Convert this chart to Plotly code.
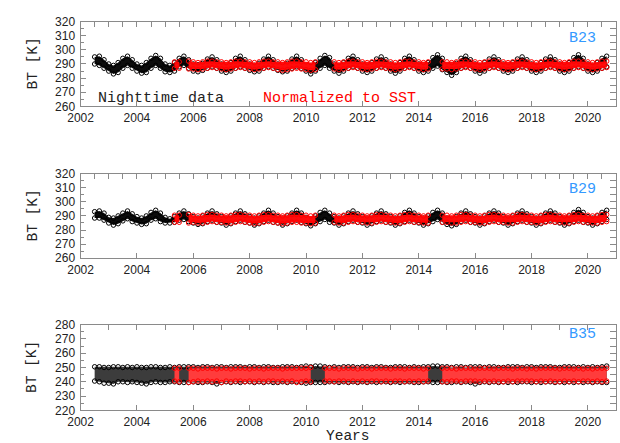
import plotly.graph_objects as go

W, H = 620, 443

# ---- time grid: 2-monthly samples from mid-2002 to mid-2020 ----
T_START = 2002.5
T_STEP = 1 / 6
N_T = 110
TIMES = [T_START + k * T_STEP for k in range(N_T)]
N = None

# ---- B23 (values per year, phases 0, 1/6, 2/6, 3/6, 4/6, 5/6) ----
B23_BLACK_HI = [295, 295.5, 293,
    290, 289, 291, 294, 295.5, 293,
    290, 289, 291, 294, 296, 294,
    290, 289, 291, 294, 295.5, 293,
    290, 289.5, 290.5, 293.5, 295, 293,
    290, 289, 291, 294, 295.5, 293,
    290, 289, 290.5, 293.5, 295.5, 293,
    290, 289, 290.5, 293.5, 295.5, 293,
    289.5, 288.5, 291, 294, 296, 294.5,
    290, 289, 291, 294, 295.5, 293,
    290, 289, 291, 293.5, 295, 293,
    290, 289, 291, 294, 295.5, 293,
    290, 289, 291, 294.5, 296.5, 294,
    289, 288, 290.5, 294, 295.5, 293,
    290, 289, 291, 293.5, 295, 293,
    290, 289, 291, 293.5, 295, 293,
    290, 289, 291, 293.5, 295, 293,
    290, 289, 291, 294.5, 296.5, 294,
    290, 289, 291, 294, 295.5]
B23_BLACK_LO = [290, 289, 287,
    285, 283, 284, 287, 289, 287,
    285, 283.5, 284, 287, 289, 287,
    284.5, 284, 285, 288, 289, 287,
    285, 284.5, 285.5, 287, 288, 287,
    285, 284, 285, 287, 288, 287,
    285.5, 284.5, 285, 287, 288, 287,
    285.5, 284.5, 285, 287, 288, 287,
    285, 283, 285, 287, 289, 287,
    285, 283.5, 285, 287, 288, 287,
    285, 284, 285, 287, 288, 287,
    285, 283.5, 285, 287, 288, 287,
    285, 284, 285, 287, 288.5, 286,
    284, 282, 284, 287, 288, 287,
    285, 283.5, 285, 287, 288, 287,
    285, 284, 285, 287, 288, 287,
    285, 284, 285, 287, 288, 287,
    285, 284, 285, 287, 288, 287,
    285, 284, 285, 287, 288]
B23_RED_HI = [N, N, N,
    N, N, N, N, N, N,
    N, N, N, N, N, N,
    N, N, 291.5, 291.5, N, 292,
    291.5, 291, 291.5, 292, 292, 291.5,
    291.5, 291, 291.5, 292, 292, 291.5,
    291.5, 291, 291.5, 292, 292, 291.5,
    291.5, 291, 291.5, 292, 292, 291.5,
    291.5, 291, 291.5, N, N, N,
    291.5, 291, 291.5, 292, 292, 291.5,
    291.5, 291, 291.5, 292, 292, 291.5,
    291.5, 291, 291.5, 292, 292, 291.5,
    291.5, 291, 291.5, N, N, 291.5,
    291.5, 291, 291.5, 292, 292, 291.5,
    291.5, 291, 291.5, 292, 292, 291.5,
    291.5, 291, 291.5, 292, 292, 291.5,
    291.5, 291, 291.5, 292, 292, 291.5,
    291.5, 291, 291.5, 292, 292, 291.5,
    291.5, 291, 291.5, 292, 292]
B23_RED_LO = [N, N, N,
    N, N, N, N, N, N,
    N, N, N, N, N, N,
    N, N, 287, 287, N, 286.5,
    286.5, 286, 286.5, 287, 287.5, 287,
    286.5, 286, 286.5, 287, 287.5, 287,
    286.5, 286, 286.5, 287, 287.5, 287,
    286, 285.5, 286, 286.5, 287, 286.5,
    286, 285.5, 286, N, N, N,
    286.5, 286, 286.5, 287, 287.5, 287,
    286.5, 286, 286.5, 287, 287.5, 287,
    286.5, 286, 286.5, 287, 287.5, 287,
    286.5, 286, 286.5, N, N, 286.5,
    286.5, 286, 286.5, 287, 287.5, 287,
    286.5, 286, 286.5, 287, 287.5, 287,
    286.5, 286, 286.5, 287, 287.5, 287,
    286.5, 286, 286.5, 287, 287.5, 287,
    286.5, 286, 286.5, 287, 287.5, 287,
    286.5, 286, 286.5, 287, 287.5]

# ---- B29 ----
B29_BLACK_HI = [293, 293.5, 292,
    289, 288.5, 290, 292, 293.5, 291.5,
    289.5, 288.5, 290, 292.5, 294, 292,
    289, 288, 289.5, 292, 293.5, 291.5,
    289.5, 288.5, 290, 292, 293.5, 291.5,
    289.5, 288.5, 290, 292, 293.5, 291.5,
    289.5, 288.5, 290, 292, 294, 292,
    289.5, 288.5, 290, 292, 294, 292,
    289, 288, 290, 292.5, 294, 292,
    289.5, 288.5, 290, 292, 293.5, 291.5,
    289.5, 288.5, 290, 292, 293.5, 291.5,
    289.5, 288.5, 290, 292.5, 294, 292,
    289.5, 288.5, 290, 292.5, 294, 292,
    288.5, 287.5, 289.5, 292, 293.5, 291.5,
    289.5, 288.5, 290, 292, 293.5, 292,
    289.5, 288.5, 290, 292, 293.5, 291.5,
    289.5, 288.5, 290, 292, 293.5, 292,
    289.5, 288.5, 290, 292.5, 294.5, 292.5,
    289.5, 288.5, 290, 292.5, 294]
B29_BLACK_LO = [288.5, 288.5, 287,
    285, 283.5, 284.5, 286.5, 288, 286,
    285, 284, 284.5, 287, 288, 286,
    285, 285, 285.5, 287, 287.5, 286,
    285, 284, 284.5, 286, 287, 285.5,
    285, 283.5, 284.5, 286, 287, 285.5,
    285, 283.5, 284.5, 286, 287, 285.5,
    285, 283.5, 284.5, 286, 287, 285.5,
    284.5, 283, 284.5, 286, 287.5, 285.5,
    285, 283.5, 284.5, 286, 287, 285.5,
    285, 283.5, 284.5, 286, 287, 285.5,
    285, 283.5, 284.5, 286, 287, 285.5,
    285, 283.5, 284.5, 286, 287.5, 285.5,
    284, 283, 284, 286, 287, 285.5,
    285, 283.5, 284.5, 286, 287, 285.5,
    285, 283.5, 284.5, 286, 287, 285.5,
    285, 283.5, 284.5, 286, 287, 285.5,
    285, 283.5, 284.5, 286, 287, 285.5,
    285, 283.5, 284.5, 286, 287.5]
B29_RED_HI = [N, N, N,
    N, N, N, N, N, N,
    N, N, N, N, N, N,
    N, N, 290.5, 290.5, N, 291,
    290.5, 290, 290.5, 291, 291, 290.5,
    290.5, 290, 290.5, 291, 291, 290.5,
    290.5, 290, 290.5, 291, 291, 290.5,
    290.5, 290, 290.5, 291, 291, 290.5,
    290.5, 290, 290.5, N, N, N,
    290.5, 290, 290.5, 291, 291, 290.5,
    290.5, 290, 290.5, 291, 291, 290.5,
    290.5, 290, 290.5, 291, 291, 290.5,
    290.5, 290, 290.5, N, N, 290.5,
    290.5, 290, 290.5, 291, 291, 290.5,
    290.5, 290, 290.5, 291, 291, 290.5,
    290.5, 290, 290.5, 291, 291, 290.5,
    290.5, 290, 290.5, 291, 291, 290.5,
    290.5, 290, 290.5, 291, 291, 290.5,
    290.5, 290, 290.5, 291, 291]
B29_RED_LO = [N, N, N,
    N, N, N, N, N, N,
    N, N, N, N, N, N,
    N, N, 285.5, 285.5, N, 285,
    285.5, 285, 285, 285.5, 286, 285.5,
    285.5, 285, 285, 285.5, 286, 285.5,
    285, 284.5, 285, 285.5, 286, 285.5,
    285, 284.5, 285, 285.5, 285.5, 285,
    285, 284.5, 285, N, N, N,
    285.5, 285, 285, 285.5, 286, 285.5,
    285.5, 285, 285, 285.5, 286, 285.5,
    285.5, 285, 285, 285.5, 286, 285.5,
    285.5, 285, 285, N, N, 285.5,
    285.5, 285, 285, 285.5, 286, 285.5,
    285.5, 285, 285, 285.5, 286, 285.5,
    285.5, 285, 285, 285.5, 286, 285.5,
    285.5, 285, 285, 285.5, 286, 285.5,
    285.5, 285, 285, 285.5, 286, 285.5,
    285.5, 285, 285, 285.5, 286]

# ---- B35 ----
B35_BLACK_HI = [250.5, 250.5, 250,
    250, 250.5, 250.5, 250, 250.5, 250,
    250.5, 250, 250, 250.5, 250.5, 250,
    250, 250.5, 250, 250.5, 250.5, 250.5,
    250.5, 250, 250.5, 250.5, 250, 250.5,
    250.5, 250, 250.5, 250.5, 250.5, 250,
    250.5, 250.5, 250, 250.5, 250.5, 250,
    250, 250.5, 250.5, 250.5, 250, 250.5,
    251, 250.5, 251, 251, 250.5, 250,
    250.5, 250, 250.5, 250.5, 250.5, 250,
    250.5, 250.5, 250, 250.5, 250.5, 250,
    250, 250.5, 250.5, 250.5, 250, 250.5,
    250, 250.5, 250.5, 251, 251, 250.5,
    250.5, 250, 250.5, 250.5, 250, 250.5,
    250.5, 250.5, 250, 250.5, 250.5, 250,
    250, 250.5, 250.5, 250.5, 250, 250.5,
    250.5, 250, 250.5, 250.5, 250.5, 250,
    250, 250.5, 250.5, 250.5, 250, 250.5,
    250, 250.5, 250, 250.5, 251]
B35_BLACK_LO = [240.5, 240, 239,
    239, 238.5, 240, 240, 239.5, 240,
    239.5, 239, 238.5, 239.5, 240, 239.5,
    239.5, 240, 240, 239.5, 239.5, 239.5,
    240, 239.5, 239.5, 240, 239.5, 238.5,
    239.5, 240, 239.5, 240, 239.5, 240,
    240, 239.5, 240, 239.5, 240, 239.5,
    239.5, 240, 239.5, 240, 240, 239.5,
    239, 239.5, 239.5, 239.5, 239.5, 240,
    240, 239.5, 240, 239.5, 240, 239.5,
    240, 239.5, 240, 239.5, 240, 240,
    239.5, 240, 239.5, 240, 240, 239.5,
    239.5, 240, 240, 239.5, 239.5, 240,
    239.5, 239.5, 240, 239.5, 240, 239.5,
    238.5, 239.5, 240, 239.5, 240, 239.5,
    240, 239.5, 240, 239.5, 240, 240,
    239.5, 240, 239.5, 240, 240, 239.5,
    240, 239.5, 240, 239.5, 240, 239.5,
    240, 239.5, 240, 239.5, 239.5]
B35_RED_HI = [N, N, N,
    N, N, N, N, N, N,
    N, N, N, N, N, N,
    N, N, 249.5, 249.5, N, 249.5,
    249.5, 249, 249.5, 249.5, 249.5, 249,
    249.5, 249.5, 249, 249.5, 249.5, 249.5,
    249, 249.5, 249.5, 249, 249.5, 249.5,
    249.5, 249, 249.5, 249.5, 249.5, 249.5,
    249.5, 250, N, N, 249.5, 249.5,
    249.5, 249, 249.5, 249.5, 249.5, 249,
    249.5, 249.5, 249, 249.5, 249.5, 249.5,
    249, 249.5, 249.5, 249, 249.5, 249.5,
    249.5, 249, 249.5, N, N, 249.5,
    249.5, 249.5, 249, 249.5, 249.5, 249.5,
    249, 249.5, 249.5, 249.5, 249, 249.5,
    249.5, 249.5, 249, 249.5, 249.5, 249,
    249.5, 249, 249.5, 249.5, 249.5, 249.5,
    249, 249.5, 249.5, 249, 249.5, 249,
    249.5, 249, 249.5, 249.5, 249.5]
B35_RED_LO = [N, N, N,
    N, N, N, N, N, N,
    N, N, N, N, N, N,
    N, N, 240.5, 240, N, 239.5,
    240, 240.5, 240, 240.5, 240, 240.5,
    239.5, 240.5, 240, 240.5, 240.5, 240,
    240.5, 240, 240.5, 240, 240.5, 240.5,
    240, 240.5, 240, 240.5, 239.5, 240,
    240.5, 240, N, N, 240.5, 240.5,
    240, 240.5, 240.5, 240, 240.5, 240,
    240.5, 240, 240.5, 240.5, 240, 240.5,
    240, 240.5, 240.5, 240, 240.5, 240,
    240.5, 240, 240.5, N, N, 240,
    240, 240.5, 240.5, 240, 240.5, 240.5,
    240.5, 240, 240.5, 240, 240.5, 240,
    240, 240.5, 240, 240.5, 240.5, 240.5,
    240.5, 240, 240.5, 240, 240.5, 240,
    240, 240.5, 240, 240.5, 240, 240.5,
    240.5, 240, 240.5, 240, 240.5]

BAND_NAMES = ["B23", "B29", "B35"]
Y_RANGES = [[260, 320], [260, 320], [220, 280]]
X_TICKS = [2002, 2004, 2006, 2008, 2010, 2012, 2014, 2016, 2018, 2020]
X_RANGE = [2002, 2021]

PANELS = [
    dict(bhi=B23_BLACK_HI, blo=B23_BLACK_LO, rhi=B23_RED_HI, rlo=B23_RED_LO,
         top=15, bot=102.7, topdtick=0.5, label_y=33,
         bfill="rgb(12,12,12)", rfill="rgb(255,12,12)"),
    dict(bhi=B29_BLACK_HI, blo=B29_BLACK_LO, rhi=B29_RED_HI, rlo=B29_RED_LO,
         top=172, bot=259.5, topdtick=0.5, label_y=188,
         bfill="rgb(12,12,12)", rfill="rgb(255,12,12)"),
    dict(bhi=B35_BLACK_HI, blo=B35_BLACK_LO, rhi=B35_RED_HI, rlo=B35_RED_LO,
         top=328, bot=416.5, topdtick=1, label_y=338,
         bfill="rgb(60,60,60)", rfill="rgb(255,60,60)"),
]

LEFT, RIGHT = 69, 616
FRAME = "#8a8a8a"
TICKFONT = dict(family="Liberation Sans", size=12, color="#222")
MONO = "Liberation Mono"


def segments(hi, lo):
    segs, cur = [], []
    for k in range(len(hi)):
        if hi[k] is None or lo[k] is None:
            if cur:
                segs.append(cur)
            cur = []
        else:
            cur.append(k)
    if cur:
        segs.append(cur)
    return segs


fig = go.Figure()
layout = dict(width=W, height=H, margin=dict(l=0, r=0, t=0, b=0),
              paper_bgcolor="white", plot_bgcolor="white", showlegend=False)
annotations = []

for i, p in enumerate(PANELS):
    n = i + 1
    xa = "x" if n == 1 else f"x{n}"
    ya = "y" if n == 1 else f"y{n}"
    xt, yr = f"x{n + 3}", f"y{n + 3}"
    for hi, lo, col, fcol in [(p["bhi"], p["blo"], "black", p["bfill"]),
                              (p["rhi"], p["rlo"], "rgb(255,0,0)", p["rfill"])]:
        for seg in segments(hi, lo):
            xs = [TIMES[k] for k in seg]
            ylo = [lo[k] for k in seg]
            yhi = [hi[k] for k in seg]
            fig.add_trace(go.Scatter(x=xs, y=ylo, mode="lines", line=dict(width=0, color=fcol),
                                     xaxis=xa, yaxis=ya, hoverinfo="skip"))
            fig.add_trace(go.Scatter(x=xs, y=yhi, mode="lines", line=dict(width=0, color=fcol),
                                     fill="tonexty", fillcolor=fcol,
                                     xaxis=xa, yaxis=ya, hoverinfo="skip"))
            mk = dict(symbol="circle-open", size=4.5, color=col, line=dict(width=1))
            fig.add_trace(go.Scatter(x=xs + xs, y=ylo + yhi, mode="markers",
                                     marker=mk, xaxis=xa, yaxis=ya, hoverinfo="skip"))
    fig.add_trace(go.Scatter(x=[None], y=[None], xaxis=xt, yaxis=ya, hoverinfo="skip"))
    fig.add_trace(go.Scatter(x=[None], y=[None], xaxis=xa, yaxis=yr, hoverinfo="skip"))

    dom_y = [1 - p["bot"] / H, 1 - p["top"] / H]
    dom_x = [LEFT / W, RIGHT / W]
    key = lambda a, nn: a + ("" if nn == 1 else str(nn))
    layout[key("xaxis", n)] = dict(
        domain=dom_x, anchor=ya, range=X_RANGE, tickvals=X_TICKS,
        ticks="inside", ticklen=5, tickcolor=FRAME, showline=True, mirror=True,
        linecolor=FRAME, linewidth=1, showgrid=False, zeroline=False,
        tickfont=TICKFONT)
    layout[key("yaxis", n)] = dict(
        domain=dom_y, anchor=xa, range=Y_RANGES[i], dtick=10,
        ticks="inside", ticklen=5, tickcolor=FRAME, showline=True, mirror=True,
        linecolor=FRAME, linewidth=1, showgrid=False, zeroline=False,
        tickfont=TICKFONT, ticklabelstandoff=2,
        minor=dict(dtick=5, ticks="inside", ticklen=3, tickcolor=FRAME))
    layout[f"xaxis{n + 3}"] = dict(
        overlaying=xa, anchor=ya, side="top", range=X_RANGE, dtick=p["topdtick"],
        tick0=2002, ticks="inside", ticklen=5, tickcolor=FRAME,
        showticklabels=False, showline=False, showgrid=False, zeroline=False)
    layout[f"yaxis{n + 3}"] = dict(
        overlaying=ya, anchor=xa, side="right", range=Y_RANGES[i], dtick=5,
        ticks="inside", ticklen=6, tickcolor=FRAME,
        showticklabels=False, showline=False, showgrid=False, zeroline=False)

    annotations.append(dict(text=BAND_NAMES[i], x=581.5 / W, y=1 - p["label_y"] / H,
                            xref="paper", yref="paper", showarrow=False,
                            xanchor="center", yanchor="middle",
                            font=dict(family=MONO, size=15, color="#3399ff")))
    annotations.append(dict(text="BT [K]", x=20 / W, y=1 - (p["top"] + p["bot"]) / 2 / H,
                            xref="paper", yref="paper", showarrow=False, textangle=-90,
                            xanchor="center", yanchor="middle",
                            font=dict(family=MONO, size=14.5, color="#222")))

annotations.append(dict(text="Nighttime data", x=85 / W, y=1 - 94.3 / H,
                        xref="paper", yref="paper", showarrow=False,
                        xanchor="left", yanchor="middle",
                        font=dict(family=MONO, size=15, color="#222")))
annotations.append(dict(text="Normalized to SST", x=253 / W, y=1 - 94.3 / H,
                        xref="paper", yref="paper", showarrow=False,
                        xanchor="left", yanchor="middle",
                        font=dict(family=MONO, size=15, color="rgb(255,0,0)")))
annotations.append(dict(text="Years", x=342.5 / W, y=1 - 434 / H,
                        xref="paper", yref="paper", showarrow=False,
                        xanchor="center", yanchor="top", borderpad=0,
                        font=dict(family=MONO, size=14.5, color="#222")))

layout["annotations"] = annotations
fig.update_layout(**layout)
fig.update_traces(showlegend=False)
fig.write_html("out.html")
